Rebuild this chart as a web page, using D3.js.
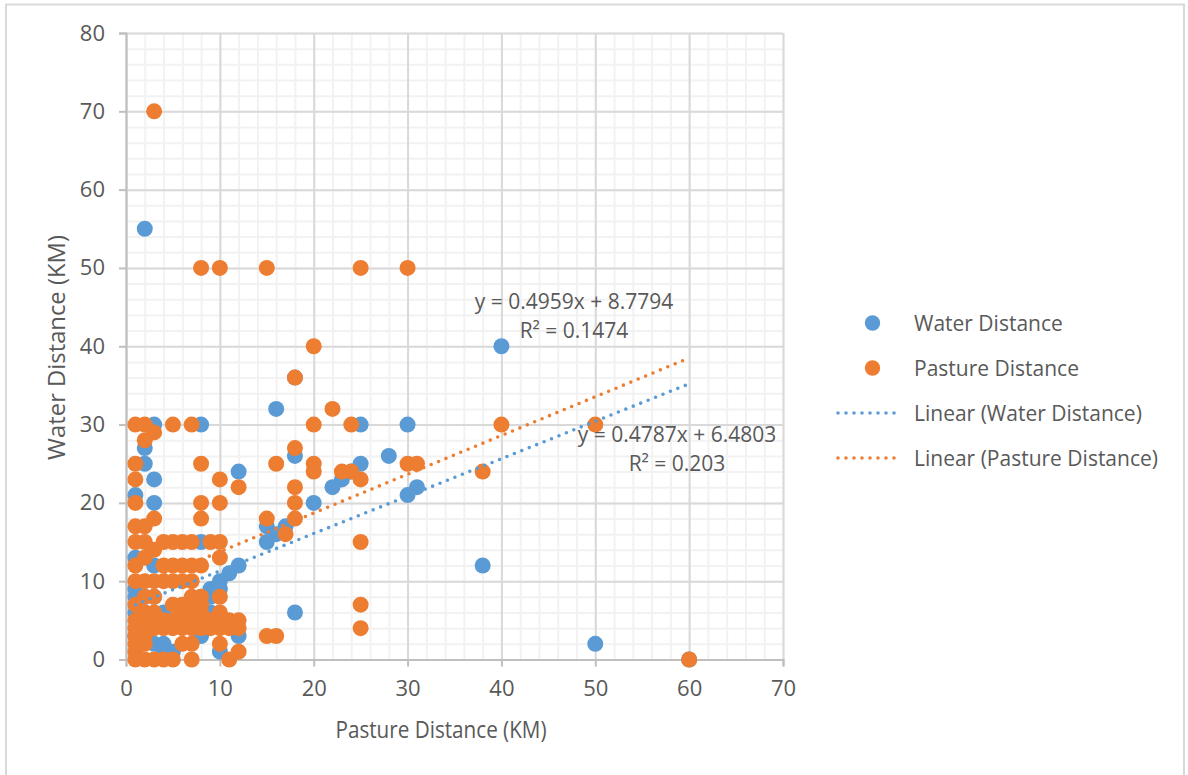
<!DOCTYPE html>
<html>
<head>
<meta charset="utf-8">
<script src="https://cdn.jsdelivr.net/npm/d3@7"></script>
<style>
  body { margin: 0; background: #fff; }
  text { font-family: "Open Sans", sans-serif; fill: #595959; }
</style>
</head>
<body>
<div id="chart"></div>
<script>
// values: [x, y]
const waterPoints = [
  [2,55],[40,40],[18,36],[16,32],[3,30],[8,30],[25,30],[30,30],[2,27],[28,26],[18,26],[2,25],[25,25],
  [3,23],[23,23],[24,24],[12,24],[22,22],[31,22],[30,21],[1,21],[3,20],[20,20],[38,12],[18,6],[50,2],
  [17,17],[15,17],[16,16],[15,15],[8,15],[12,12],[11,11],[10,10],[10,9],[9,9],[8,8],[9,8],[1,13],[3,12],
  [1,9],[1,8],[3,8],[2,8],[1,6],[2,6],[4,6],[5,5],[8,6],[9,6],[12,3],[10,1],[4,2],[3,2],[5,1],[4,1],
  [8,3],[1,3],[60,0]
];
const pasturePoints = [
  [3,70],[8,50],[10,50],[15,50],[25,50],[30,50],[20,40],[18,36],[22,32],[1,30],[2,30],[5,30],[7,30],
  [20,30],[24,30],[40,30],[50,30],[3,29],[2,28],[18,27],[1,25],[8,25],[16,25],[20,25],[30,25],[31,25],
  [20,24],[23,24],[24,24],[38,24],[1,23],[10,23],[25,23],[12,22],[18,22],[1,20],[8,20],[10,20],[18,20],
  [3,18],[8,18],[15,18],[18,18],[1,17],[2,17],[17,16],[25,15],
  [1,15],[2,15],[4,15],[5,15],[6,15],[7,15],[9,15],[10,15],[3,14],[2,13],[10,13],
  [1,12],[4,12],[5,12],[6,12],[7,12],[8,12],
  [1,10],[2,10],[3,10],[4,10],[5,10],[6,10],[7,10],
  [2,8],[3,8],[7,8],[8,8],[10,8],
  [1,7],[5,7],[6,7],[7,7],[8,7],[25,7],
  [2,6],[3,6],[6,6],[7,6],[8,6],[10,6],
  [1,5],[2,5],[3,5],[4,5],[5,5],[6,5],[7,5],[8,5],[9,5],[10,5],[11,5],[12,5],
  [1,4],[2,4],[3,4],[4,4],[5,4],[6,4],[7,4],[8,4],[9,4],[10,4],[11,4],[12,4],[25,4],
  [1,3],[2,3],[15,3],[16,3],
  [1,2],[2,2],[6,2],[7,2],[10,2],[1,1],[12,1],
  [1,0],[2,0],[3,0],[4,0],[5,0],[7,0],[11,0],[60,0]
];
const trendX = [1, 60];
const waterTrendY = [7.0, 35.2];
const pastureTrendY = [9.3, 38.5];
const xTicks = [0, 10, 20, 30, 40, 50, 60, 70];
const yTicks = [0, 10, 20, 30, 40, 50, 60, 70, 80];
const xMinor = d3.range(0, 71, 2);
const yMinor = d3.range(0, 81, 2);
const legendItems = ['Water Distance', 'Pasture Distance', 'Linear (Water Distance)', 'Linear (Pasture Distance)'];

const blue = '#5b9bd5';
const orange = '#ed7d31';

const width = 1188;
const height = 775;

const svg = d3.select('#chart').append('svg')
  .attr('width', width)
  .attr('height', height)
  .style('display', 'block');

// outer chart frame, runs off the bottom of the shot
svg.append('path')
  .attr('d', `M6,${height} V4.5 H1184 V${height}`)
  .attr('fill', 'none')
  .attr('stroke', '#d9d9d9')
  .attr('stroke-width', 2);

const xScale = d3.scaleLinear().domain([0, 70]).range([126, 783]);
const yScale = d3.scaleLinear().domain([0, 80]).range([659.5, 33]);

function grid(g, color) {
  g.selectAll('.domain').remove();
  g.selectAll('line').attr('stroke', color).attr('stroke-width', 2);
  g.selectAll('text').remove();
}

svg.append('g')
  .attr('transform', `translate(0,${yScale(0)})`)
  .call(d3.axisBottom(xScale).tickValues(xMinor).tickSize(yScale(80) - yScale(0)))
  .call(grid, '#f2f2f2');
svg.append('g')
  .attr('transform', `translate(${xScale(0)},0)`)
  .call(d3.axisLeft(yScale).tickValues(yMinor).tickSize(xScale(0) - xScale(70)))
  .call(grid, '#f2f2f2');
svg.append('g')
  .attr('transform', `translate(0,${yScale(0)})`)
  .call(d3.axisBottom(xScale).tickValues(xTicks).tickSize(yScale(80) - yScale(0)))
  .call(grid, '#d9d9d9');
svg.append('g')
  .attr('transform', `translate(${xScale(0)},0)`)
  .call(d3.axisLeft(yScale).tickValues(yTicks).tickSize(xScale(0) - xScale(70)))
  .call(grid, '#d9d9d9');

// axes with the short outward ticks
const xAxis = svg.append('g')
  .attr('transform', `translate(0,${yScale(0)})`)
  .call(d3.axisBottom(xScale).tickValues(xTicks).tickSize(7).tickPadding(14));
const yAxis = svg.append('g')
  .attr('transform', `translate(${xScale(0)},0)`)
  .call(d3.axisLeft(yScale).tickValues(yTicks).tickSize(7).tickPadding(14));

[xAxis, yAxis].forEach((a) => {
  a.selectAll('.domain').attr('stroke', '#bfbfbf').attr('stroke-width', 2);
  a.selectAll('line').attr('stroke', '#bfbfbf').attr('stroke-width', 2);
  a.selectAll('text').style('font-size', '22px').style('font-family', '"Open Sans", sans-serif').attr('fill', '#595959');
});

const dots = svg.append('g');
dots.selectAll('.water')
  .data(waterPoints)
  .join('circle')
  .attr('class', 'water')
  .attr('cx', (d) => xScale(d[0]))
  .attr('cy', (d) => yScale(d[1]))
  .attr('r', 8)
  .attr('fill', blue);
dots.selectAll('.pasture')
  .data(pasturePoints)
  .join('circle')
  .attr('class', 'pasture')
  .attr('cx', (d) => xScale(d[0]))
  .attr('cy', (d) => yScale(d[1]))
  .attr('r', 8)
  .attr('fill', orange);

const trend = d3.line().x((d) => xScale(d[0])).y((d) => yScale(d[1]));

function dotted(sel, color) {
  sel.attr('fill', 'none')
    .attr('stroke', color)
    .attr('stroke-width', 3.6)
    .attr('stroke-linecap', 'round')
    .attr('stroke-dasharray', '0 8');
}

svg.append('path').attr('d', trend(d3.zip(trendX, waterTrendY))).call(dotted, blue);
svg.append('path').attr('d', trend(d3.zip(trendX, pastureTrendY))).call(dotted, orange);

// trendline equations
const labels = [
  ['y = 0.4959x + 8.7794', 574, 309],
  ['R² = 0.1474', 574, 338],
  ['y = 0.4787x + 6.4803', 677, 442],
  ['R² = 0.203', 677, 471],
];
svg.selectAll('.eq')
  .data(labels)
  .join('text')
  .attr('class', 'eq')
  .attr('x', (d) => d[1])
  .attr('y', (d) => d[2])
  .attr('text-anchor', 'middle')
  .style('font-size', '21px')
  .text((d) => d[0]);

// axis titles, the x one is squeezed sideways in the reference
svg.append('text')
  .attr('x', 441)
  .attr('y', 738)
  .attr('text-anchor', 'middle')
  .attr('textLength', 211)
  .attr('lengthAdjust', 'spacingAndGlyphs')
  .style('font-size', '23px')
  .text('Pasture Distance (KM)');
svg.append('text')
  .attr('transform', 'translate(65,347.5) rotate(-90)')
  .attr('text-anchor', 'middle')
  .style('font-size', '23.8px')
  .text('Water Distance (KM)');

// legend
const legendY = d3.scalePoint().domain(legendItems).range([323, 458]);
const legend = svg.append('g');
legendItems.forEach((name, i) => {
  const y = legendY(name);
  const color = i % 2 === 0 ? blue : orange;
  if (i < 2) {
    legend.append('circle').attr('cx', 872.5).attr('cy', y).attr('r', 7.7).attr('fill', color);
  } else {
    legend.append('path').attr('d', `M838,${y} H902`).call(dotted, color);
  }
  legend.append('text')
    .attr('x', 914)
    .attr('y', y + 7.5)
    .style('font-size', '21px')
    .text(name);
});
</script>
</body>
</html>
